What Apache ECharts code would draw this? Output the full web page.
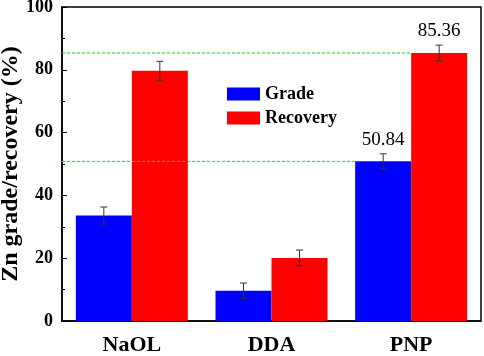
<!DOCTYPE html>
<html>
<head>
<meta charset="utf-8">
<script src="https://cdn.jsdelivr.net/npm/echarts@6/dist/echarts.min.js"></script>
<style>
  html, body { margin: 0; padding: 0; background: #fff; }
  #chart { width: 484px; height: 356px; }
</style>
</head>
<body>
<div id="chart"></div>
<script>
const categories = ["NaOL", "DDA", "PNP"];
const gradeValues = [33.6, 9.6, 50.84];
const recoveryValues = [79.7, 20.1, 85.36];
const gradeErrors = [2.7, 2.5, 2.4];
const recoveryErrors = [3.0, 2.5, 2.5];
// dashed guide lines: [category index, value, bar side (-1 grade, 0 recovery)]
const guideLines = [[2, 50.84, -1], [2, 85.36, 0]];
const labelledIndex = 2;

const FONT = "Liberation Serif";
const BAR_W = 56;

const chart = echarts.init(document.getElementById("chart"), null, { renderer: "canvas" });

function errorRender(side) {
  return function (params, api) {
    const i = api.value(0);
    const v = api.value(1);
    const e = api.value(2);
    const top = api.coord([i, v + e]);
    const bot = api.coord([i, v - e]);
    const x = top[0] + side * BAR_W / 2;
    const cap = 3.5;
    const style = { stroke: "#333", lineWidth: 1 };
    return {
      type: "group",
      children: [
        { type: "line", shape: { x1: x, y1: top[1], x2: x, y2: bot[1] }, style },
        { type: "line", shape: { x1: x - cap, y1: top[1], x2: x + cap, y2: top[1] }, style },
        { type: "line", shape: { x1: x - cap, y1: bot[1], x2: x + cap, y2: bot[1] }, style },
      ],
    };
  };
}

const barData = (vals) =>
  vals.map((v, i) =>
    i === labelledIndex
      ? {
          value: v,
          label: {
            show: true,
            position: "top",
            distance: 12,
            color: "#000",
            fontFamily: FONT,
            fontSize: 19,
            formatter: (p) => p.value.toFixed(2),
          },
        }
      : v,
  );

chart.setOption({
  backgroundColor: "#fff",
  animation: false,
  grid: {
    left: 62, right: 3, top: 7, bottom: 35,
    outerBoundsMode: "none",
    containLabel: false,
    show: true, borderColor: "#000", borderWidth: 1.5,
  },
  legend: {
    data: ["Grade", "Recovery"],
    orient: "vertical",
    left: 222,
    top: 80,
    icon: "rect",
    itemWidth: 33,
    itemHeight: 13,
    itemGap: 6,
    textStyle: { fontFamily: FONT, fontWeight: "bold", fontSize: 18, color: "#000" },
  },
  xAxis: [
    {
      type: "category",
      data: categories,
      axisLine: { lineStyle: { color: "#000", width: 1.5 } },
      axisTick: { length: 4, lineStyle: { color: "#000" } },
      axisLabel: {
        color: "#000", fontFamily: FONT, fontWeight: "bold", fontSize: 22, margin: 13,
      },
      splitLine: { show: false },
    },
    {
      type: "category",
      data: categories,
      position: "bottom",
      axisLine: { show: false },
      axisTick: { alignWithLabel: true, length: 4, lineStyle: { color: "#000" } },
      axisLabel: { show: false },
    },
  ],
  yAxis: {
    type: "value",
    min: 0,
    max: 100,
    interval: 20,
    name: "Zn grade/recovery (%)",
    nameLocation: "middle",
    nameGap: 39,
    nameMoveOverlap: false,
    nameTextStyle: { color: "#000", fontFamily: FONT, fontWeight: "bold", fontSize: 24 },
    axisLine: { show: true, lineStyle: { color: "#000", width: 1.5 } },
    axisTick: { show: true, inside: true, length: 5, lineStyle: { color: "#000" } },
    minorTick: { show: true, splitNumber: 2, length: 3, lineStyle: { color: "#000" } },
    axisLabel: {
      color: "#000", fontFamily: FONT, fontWeight: "bold", fontSize: 18, margin: 9,
    },
    splitLine: { show: false },
  },
  series: [
    {
      name: "Grade",
      type: "bar",
      data: barData(gradeValues),
      barWidth: BAR_W,
      barGap: "0%",
      itemStyle: { color: "#0000ff" },
      z: 2,
    },
    {
      name: "Recovery",
      type: "bar",
      data: barData(recoveryValues),
      barWidth: BAR_W,
      barGap: "0%",
      itemStyle: { color: "#ff0000" },
      z: 2,
    },
    {
      name: "guides",
      type: "custom",
      data: guideLines,
      encode: { x: 0, y: 1 },
      z: 5,
      silent: true,
      renderItem: (params, api) => {
        const p = api.coord([api.value(0), api.value(1)]);
        const xEnd = p[0] + api.value(2) * BAR_W;
        return {
          type: "line",
          shape: { x1: params.coordSys.x, y1: p[1], x2: xEnd, y2: p[1] },
          style: { stroke: "#00e600", lineWidth: 1, lineDash: [3, 2] },
        };
      },
    },
    {
      name: "gradeErr",
      type: "custom",
      data: gradeValues.map((v, i) => [i, v, gradeErrors[i]]),
      encode: { x: 0, y: 1 },
      z: 6,
      renderItem: errorRender(-1),
    },
    {
      name: "recoveryErr",
      type: "custom",
      data: recoveryValues.map((v, i) => [i, v, recoveryErrors[i]]),
      encode: { x: 0, y: 1 },
      z: 6,
      renderItem: errorRender(1),
    },
  ],
});
</script>
</body>
</html>
